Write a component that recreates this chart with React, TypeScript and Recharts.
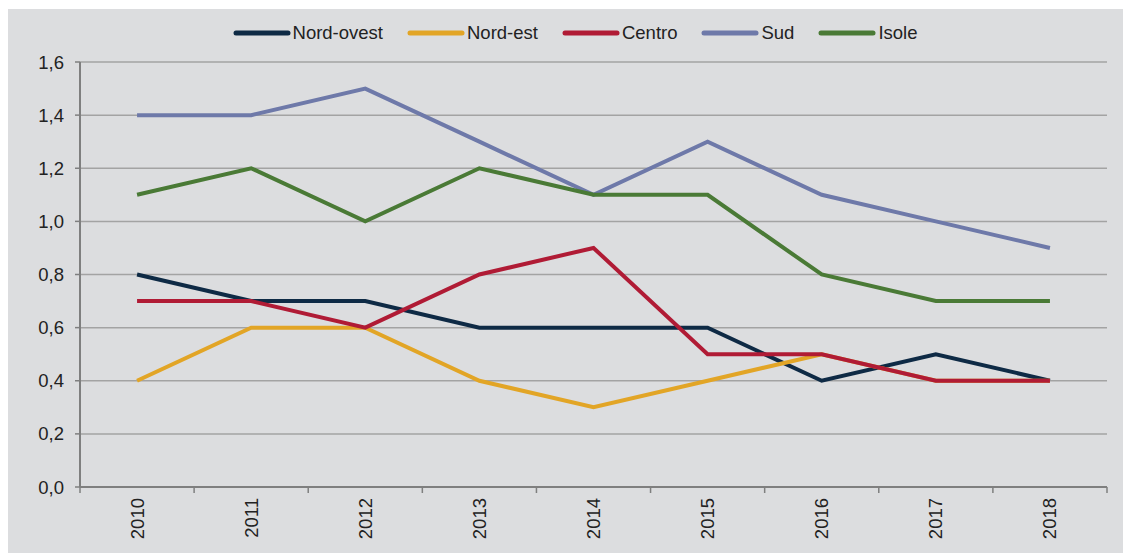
import { LineChart, Line, XAxis, YAxis, CartesianGrid } from 'recharts';

// Tassi per ripartizione geografica, 2010-2018
const years = ['2010', '2011', '2012', '2013', '2014', '2015', '2016', '2017', '2018'];

const nordOvest = [0.8, 0.7, 0.7, 0.6, 0.6, 0.6, 0.4, 0.5, 0.4];
const nordEst = [0.4, 0.6, 0.6, 0.4, 0.3, 0.4, 0.5, 0.4, 0.4];
const centro = [0.7, 0.7, 0.6, 0.8, 0.9, 0.5, 0.5, 0.4, 0.4];
const sud = [1.4, 1.4, 1.5, 1.3, 1.1, 1.3, 1.1, 1.0, 0.9];
const isole = [1.1, 1.2, 1.0, 1.2, 1.1, 1.1, 0.8, 0.7, 0.7];

const yTicks = [0, 0.2, 0.4, 0.6, 0.8, 1.0, 1.2, 1.4, 1.6];

const SERIES = [
  { key: 'nordOvest', name: 'Nord-ovest', color: '#0e2a45', values: nordOvest },
  { key: 'nordEst', name: 'Nord-est', color: '#e2a526', values: nordEst },
  { key: 'centro', name: 'Centro', color: '#b01b35', values: centro },
  { key: 'sud', name: 'Sud', color: '#6e79a9', values: sud },
  { key: 'isole', name: 'Isole', color: '#4a7a36', values: isole },
];

const BG = '#dcdddf';
const GRID = '#a3a3a3';
const AXIS = '#7f7f7f';
const TEXT = '#222222';
const FONT = '"Liberation Sans", Arial, Helvetica, sans-serif';
const FS = 18.5;

// x as index so the category boundaries can carry the tick marks (Excel style)
const data = years.map((y, i) => {
  const row: Record<string, number | string> = { x: i, year: y };
  SERIES.forEach((s) => {
    row[s.key] = s.values[i];
  });
  return row;
});

const xTicks: number[] = [];
for (let i = -0.5; i <= years.length - 0.5; i += 0.5) xTicks.push(i);

// eslint-disable-next-line @typescript-eslint/no-explicit-any
function XTick({ x, y, payload }: any) {
  const v = payload.value as number;
  if (Math.abs(v - Math.round(v)) > 0.01) {
    // boundary: tick mark only
    return <line x1={x} x2={x} y1={y} y2={y + 6} stroke={AXIS} strokeWidth={1.5} />;
  }
  const label = years[Math.round(v)];
  const ty = y + 11;
  return (
    <text
      x={x}
      y={ty}
      transform={`rotate(-90, ${x}, ${ty})`}
      textAnchor="end"
      dominantBaseline="central"
      fill={TEXT}
      fontSize={FS}
      fontFamily={FONT}
    >
      {label}
    </text>
  );
}

function LegendRow() {
  return (
    <div
      style={{
        position: 'absolute',
        top: 13,
        left: 0,
        width: '100%',
        display: 'flex',
        justifyContent: 'center',
        gap: 24,
        fontFamily: FONT,
        fontSize: FS,
        color: TEXT,
        paddingLeft: 12,
        boxSizing: 'border-box',
      }}
    >
      {SERIES.map((s) => (
        <div key={s.key} style={{ display: 'flex', alignItems: 'center' }}>
          <svg width={58} height={10} style={{ marginRight: 2 }}>
            <line x1={3} x2={55} y1={5} y2={5} stroke={s.color} strokeWidth={5} strokeLinecap="round" />
          </svg>
          <span>{s.name}</span>
        </div>
      ))}
    </div>
  );
}

export default function App() {
  return (
    <div
      style={{
        position: 'relative',
        width: 1124,
        height: 544,
        marginLeft: -1,
        marginTop: 1,
        background: BG,
      }}
    >
      <LegendRow />
      <LineChart width={1124} height={544} data={data} margin={{ top: 53, right: 24, left: 0, bottom: 0 }}>
        <CartesianGrid horizontal vertical={false} stroke={GRID} strokeWidth={1.5} />
        <XAxis
          dataKey="x"
          type="number"
          domain={[-0.5, years.length - 0.5]}
          ticks={xTicks}
          interval={0}
          tick={<XTick />}
          tickLine={false}
          tickSize={0}
          tickMargin={0}
          axisLine={{ stroke: AXIS, strokeWidth: 2 }}
          height={66}
          allowDataOverflow
        />
        <YAxis
          type="number"
          domain={[0, 1.6]}
          ticks={yTicks}
          interval={0}
          width={73}
          tickSize={5}
          tickMargin={11}
          tickLine={{ stroke: AXIS, strokeWidth: 1.5 }}
          axisLine={{ stroke: AXIS, strokeWidth: 2 }}
          tickFormatter={(v: number) => v.toFixed(1).replace('.', ',')}
          tick={{ fill: TEXT, fontSize: FS, fontFamily: FONT }}
        />
        {SERIES.map((s) => (
          <Line
            key={s.key}
            dataKey={s.key}
            name={s.name}
            type="linear"
            stroke={s.color}
            strokeWidth={4}
            dot={false}
            activeDot={false}
            isAnimationActive={false}
          />
        ))}
      </LineChart>
    </div>
  );
}
